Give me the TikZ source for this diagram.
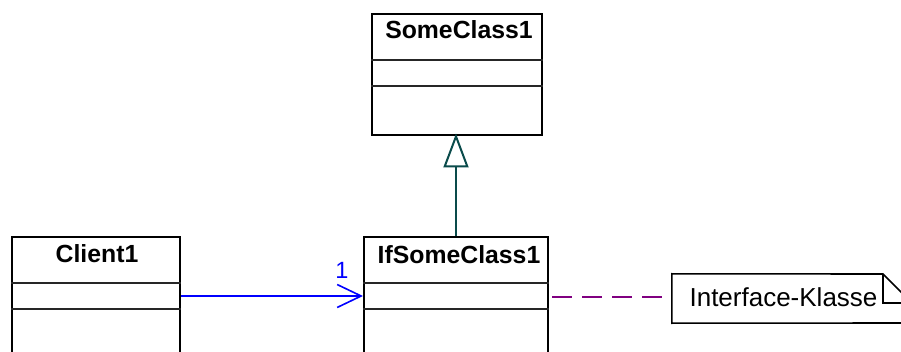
\documentclass[tikz,border=0pt]{standalone}
\usepackage{fontspec}
\setmainfont{Liberation Sans}
\usetikzlibrary{arrows.meta}

\definecolor{inhcol}{RGB}{10,75,75}
\definecolor{assoccol}{RGB}{0,0,255}
\definecolor{notecol}{RGB}{128,0,128}

\tikzset{
  classbox/.style={draw=black, line width=2pt, fill=white, inner sep=0pt},
  classtitle/.style={anchor=base, inner sep=0pt, font=\fontsize{24.8}{28}\selectfont\bfseries},
  sepline/.style={draw=black!85, line width=1.5pt},
  inherit/.style={draw=inhcol, line width=2pt, shorten >=-2.5pt,
    -{Triangle[open, length=34pt, width=25pt, fill=white]}},
  assoc/.style={draw=assoccol, line width=1.6pt,
    -{Straight Barb[length=24pt, width=23pt, line width=1.6pt]}},
  anchorline/.style={draw=notecol, line width=1.6pt, dash pattern=on 20pt off 10pt},
  notetext/.style={anchor=base, inner sep=0pt, font=\fontsize{26}{30}\selectfont},
  noteoutline/.style={draw=black, line width=1.6pt, fill=white}
}

\begin{document}
\begin{tikzpicture}[x=1pt, y=-1pt]
  \useasboundingbox (0,0) rectangle (901,352);

  % class SomeClass1
  \node[classbox, minimum width=170pt, minimum height=121pt] (sc) at (457,74.5) {};
  \node[classtitle] (sctitle) at (459,39) {SomeClass1};
  \draw[sepline] (sc.west |- 0,60) -- (sc.east |- 0,60);
  \draw[sepline] (sc.west |- 0,86) -- (sc.east |- 0,86);

  % class Client1 (continues below the page edge)
  \node[classbox, minimum width=168pt, minimum height=140pt] (cl) at (96,307) {};
  \node[classtitle] (cltitle) at (97,263) {Client1};
  \draw[sepline] (cl.west |- 0,283) -- (cl.east |- 0,283);
  \draw[sepline] (cl.west |- 0,309) -- (cl.east |- 0,309);

  % class IfSomeClass1 (continues below the page edge)
  \node[classbox, minimum width=184pt, minimum height=140pt] (ifc) at (456,307) {};
  \node[classtitle] (ifctitle) at (459,264) {IfSomeClass1};
  \draw[sepline] (ifc.west |- 0,283) -- (ifc.east |- 0,283);
  \draw[sepline] (ifc.west |- 0,309) -- (ifc.east |- 0,309);

  % note with folded corner
  \node[minimum width=240pt, minimum height=49pt, inner sep=0pt] (note) at (792,298.5) {};
  \draw[noteoutline] (note.north west) -- (883,274) -- (912,303) -- (912,323)
     -- (note.south west) -- cycle;
  \draw[noteoutline, fill=none] (883,274) -- (883,303) -- (912,303);
  \node[notetext] (notelabel) at (783.5,306) {Interface-Klasse};

  % generalization
  \draw[inherit] (ifc.north -| 456,0) -- (sc.south -| 456,0);

  % association with multiplicity
  \draw[assoc] (cl.east |- 0,296) -- (ifc.west |- 0,296);
  \node[anchor=base, inner sep=0pt, text=assoccol, font=\fontsize{23.5}{27}\selectfont]
    (mult) at (342,279) {1};

  % note anchor
  \draw[anchorline] ([xshift=3pt]ifc.east |- 0,297) -- (note.west |- 0,297);
\end{tikzpicture}
\end{document}
